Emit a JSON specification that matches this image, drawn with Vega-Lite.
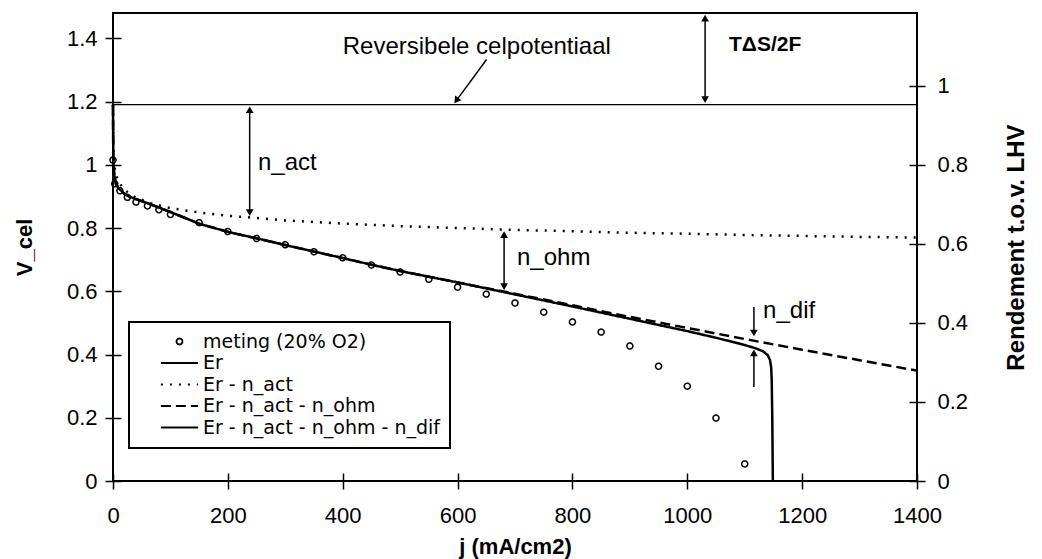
{
  "$schema": "https://vega.github.io/schema/vega-lite/v6.json",
  "width": 804,
  "height": 468,
  "autosize": "none",
  "padding": {"left": 113, "top": 13, "right": 125, "bottom": 78},
  "background": "white",
  "datasets": {
    "curves": [
      {"j": 0, "V": 1.19, "series": "Er"},
      {"j": 1400, "V": 1.19, "series": "Er"},
      {"j": 0, "V": 1.19, "series": "Er - n_act"},
      {"j": 0.5, "V": 1.05, "series": "Er - n_act"},
      {"j": 1, "V": 1.026, "series": "Er - n_act"},
      {"j": 2, "V": 1.0, "series": "Er - n_act"},
      {"j": 5, "V": 0.969, "series": "Er - n_act"},
      {"j": 10, "V": 0.945, "series": "Er - n_act"},
      {"j": 20, "V": 0.92, "series": "Er - n_act"},
      {"j": 40, "V": 0.896, "series": "Er - n_act"},
      {"j": 64, "V": 0.879, "series": "Er - n_act"},
      {"j": 100, "V": 0.863, "series": "Er - n_act"},
      {"j": 150, "V": 0.849, "series": "Er - n_act"},
      {"j": 200, "V": 0.839, "series": "Er - n_act"},
      {"j": 300, "V": 0.824, "series": "Er - n_act"},
      {"j": 400, "V": 0.814, "series": "Er - n_act"},
      {"j": 500, "V": 0.806, "series": "Er - n_act"},
      {"j": 600, "V": 0.8, "series": "Er - n_act"},
      {"j": 700, "V": 0.794, "series": "Er - n_act"},
      {"j": 800, "V": 0.79, "series": "Er - n_act"},
      {"j": 900, "V": 0.785, "series": "Er - n_act"},
      {"j": 1000, "V": 0.782, "series": "Er - n_act"},
      {"j": 1100, "V": 0.778, "series": "Er - n_act"},
      {"j": 1200, "V": 0.775, "series": "Er - n_act"},
      {"j": 1300, "V": 0.772, "series": "Er - n_act"},
      {"j": 1400, "V": 0.77, "series": "Er - n_act"},
      {"j": 0, "V": 1.19, "series": "Er - n_act - n_ohm"},
      {"j": 0.5, "V": 1.03, "series": "Er - n_act - n_ohm"},
      {"j": 1, "V": 1.0, "series": "Er - n_act - n_ohm"},
      {"j": 2, "V": 0.97, "series": "Er - n_act - n_ohm"},
      {"j": 5, "V": 0.94, "series": "Er - n_act - n_ohm"},
      {"j": 10, "V": 0.925, "series": "Er - n_act - n_ohm"},
      {"j": 20, "V": 0.908, "series": "Er - n_act - n_ohm"},
      {"j": 30, "V": 0.898, "series": "Er - n_act - n_ohm"},
      {"j": 64, "V": 0.876, "series": "Er - n_act - n_ohm"},
      {"j": 105, "V": 0.847, "series": "Er - n_act - n_ohm"},
      {"j": 151, "V": 0.813, "series": "Er - n_act - n_ohm"},
      {"j": 204, "V": 0.786, "series": "Er - n_act - n_ohm"},
      {"j": 256, "V": 0.765, "series": "Er - n_act - n_ohm"},
      {"j": 305, "V": 0.744, "series": "Er - n_act - n_ohm"},
      {"j": 352, "V": 0.725, "series": "Er - n_act - n_ohm"},
      {"j": 400, "V": 0.705, "series": "Er - n_act - n_ohm"},
      {"j": 450, "V": 0.684, "series": "Er - n_act - n_ohm"},
      {"j": 500, "V": 0.664, "series": "Er - n_act - n_ohm"},
      {"j": 600, "V": 0.628, "series": "Er - n_act - n_ohm"},
      {"j": 700, "V": 0.592, "series": "Er - n_act - n_ohm"},
      {"j": 800, "V": 0.556, "series": "Er - n_act - n_ohm"},
      {"j": 900, "V": 0.519, "series": "Er - n_act - n_ohm"},
      {"j": 1000, "V": 0.484, "series": "Er - n_act - n_ohm"},
      {"j": 1100, "V": 0.449, "series": "Er - n_act - n_ohm"},
      {"j": 1200, "V": 0.415, "series": "Er - n_act - n_ohm"},
      {"j": 1300, "V": 0.382, "series": "Er - n_act - n_ohm"},
      {"j": 1400, "V": 0.349, "series": "Er - n_act - n_ohm"},
      {"j": 0, "V": 1.19, "series": "Er - n_act - n_ohm - n_dif"},
      {"j": 0.5, "V": 1.03, "series": "Er - n_act - n_ohm - n_dif"},
      {"j": 1, "V": 1.0, "series": "Er - n_act - n_ohm - n_dif"},
      {"j": 2, "V": 0.97, "series": "Er - n_act - n_ohm - n_dif"},
      {"j": 5, "V": 0.94, "series": "Er - n_act - n_ohm - n_dif"},
      {"j": 10, "V": 0.925, "series": "Er - n_act - n_ohm - n_dif"},
      {"j": 20, "V": 0.908, "series": "Er - n_act - n_ohm - n_dif"},
      {"j": 30, "V": 0.898, "series": "Er - n_act - n_ohm - n_dif"},
      {"j": 64, "V": 0.876, "series": "Er - n_act - n_ohm - n_dif"},
      {"j": 105, "V": 0.847, "series": "Er - n_act - n_ohm - n_dif"},
      {"j": 151, "V": 0.813, "series": "Er - n_act - n_ohm - n_dif"},
      {"j": 204, "V": 0.786, "series": "Er - n_act - n_ohm - n_dif"},
      {"j": 256, "V": 0.765, "series": "Er - n_act - n_ohm - n_dif"},
      {"j": 305, "V": 0.744, "series": "Er - n_act - n_ohm - n_dif"},
      {"j": 352, "V": 0.725, "series": "Er - n_act - n_ohm - n_dif"},
      {"j": 400, "V": 0.705, "series": "Er - n_act - n_ohm - n_dif"},
      {"j": 450, "V": 0.684, "series": "Er - n_act - n_ohm - n_dif"},
      {"j": 500, "V": 0.664, "series": "Er - n_act - n_ohm - n_dif"},
      {"j": 600, "V": 0.628, "series": "Er - n_act - n_ohm - n_dif"},
      {"j": 700, "V": 0.59, "series": "Er - n_act - n_ohm - n_dif"},
      {"j": 800, "V": 0.552, "series": "Er - n_act - n_ohm - n_dif"},
      {"j": 900, "V": 0.513, "series": "Er - n_act - n_ohm - n_dif"},
      {"j": 1000, "V": 0.474, "series": "Er - n_act - n_ohm - n_dif"},
      {"j": 1050, "V": 0.453, "series": "Er - n_act - n_ohm - n_dif"},
      {"j": 1100, "V": 0.43, "series": "Er - n_act - n_ohm - n_dif"},
      {"j": 1120, "V": 0.419, "series": "Er - n_act - n_ohm - n_dif"},
      {"j": 1132, "V": 0.41, "series": "Er - n_act - n_ohm - n_dif"},
      {"j": 1140, "V": 0.398, "series": "Er - n_act - n_ohm - n_dif"},
      {"j": 1144, "V": 0.383, "series": "Er - n_act - n_ohm - n_dif"},
      {"j": 1146, "V": 0.36, "series": "Er - n_act - n_ohm - n_dif"},
      {"j": 1147, "V": 0.32, "series": "Er - n_act - n_ohm - n_dif"},
      {"j": 1148, "V": 0.2, "series": "Er - n_act - n_ohm - n_dif"},
      {"j": 1149, "V": 0, "series": "Er - n_act - n_ohm - n_dif"}
    ],
    "meting": [
      {"j": 0, "V": 1.015, "series": "meting (20% O2)"},
      {"j": 3, "V": 0.94, "series": "meting (20% O2)"},
      {"j": 12, "V": 0.918, "series": "meting (20% O2)"},
      {"j": 25, "V": 0.897, "series": "meting (20% O2)"},
      {"j": 40, "V": 0.882, "series": "meting (20% O2)"},
      {"j": 60, "V": 0.87, "series": "meting (20% O2)"},
      {"j": 80, "V": 0.858, "series": "meting (20% O2)"},
      {"j": 100, "V": 0.843, "series": "meting (20% O2)"},
      {"j": 150, "V": 0.817, "series": "meting (20% O2)"},
      {"j": 200, "V": 0.789, "series": "meting (20% O2)"},
      {"j": 250, "V": 0.767, "series": "meting (20% O2)"},
      {"j": 300, "V": 0.747, "series": "meting (20% O2)"},
      {"j": 350, "V": 0.725, "series": "meting (20% O2)"},
      {"j": 400, "V": 0.706, "series": "meting (20% O2)"},
      {"j": 450, "V": 0.683, "series": "meting (20% O2)"},
      {"j": 500, "V": 0.661, "series": "meting (20% O2)"},
      {"j": 550, "V": 0.638, "series": "meting (20% O2)"},
      {"j": 600, "V": 0.613, "series": "meting (20% O2)"},
      {"j": 650, "V": 0.591, "series": "meting (20% O2)"},
      {"j": 700, "V": 0.563, "series": "meting (20% O2)"},
      {"j": 750, "V": 0.534, "series": "meting (20% O2)"},
      {"j": 800, "V": 0.503, "series": "meting (20% O2)"},
      {"j": 850, "V": 0.471, "series": "meting (20% O2)"},
      {"j": 900, "V": 0.427, "series": "meting (20% O2)"},
      {"j": 950, "V": 0.363, "series": "meting (20% O2)"},
      {"j": 1000, "V": 0.3, "series": "meting (20% O2)"},
      {"j": 1050, "V": 0.199, "series": "meting (20% O2)"},
      {"j": 1100, "V": 0.054, "series": "meting (20% O2)"}
    ],
    "shafts": [
      {"j": 1031, "V": 1.464, "j2": 1031, "V2": 1.206},
      {"j": 238, "V": 1.174, "j2": 238, "V2": 0.849},
      {"j": 681, "V": 0.779, "j2": 681, "V2": 0.615},
      {"j": 1116, "V": 0.55, "j2": 1116, "V2": 0.468},
      {"j": 1116, "V": 0.297, "j2": 1116, "V2": 0.405},
      {"j": 650.5, "V": 1.333, "j2": 597.8, "V2": 1.203}
    ],
    "headsUp": [
      {"j": 1031, "V": 1.464},
      {"j": 238, "V": 1.174},
      {"j": 681, "V": 0.779},
      {"j": 1116, "V": 0.405}
    ],
    "headsDown": [
      {"j": 1031, "V": 1.206},
      {"j": 238, "V": 0.849},
      {"j": 681, "V": 0.615},
      {"j": 1116, "V": 0.468}
    ],
    "headsDiag": [
      {"j": 597.8, "V": 1.203}
    ],
    "notes": [
      {"j": 400, "V": 1.372, "text": "Reversibele celpotentiaal"},
      {"j": 252.5, "V": 1.005, "text": "n_act"},
      {"j": 703.5, "V": 0.705, "text": "n_ohm"},
      {"j": 1132, "V": 0.537, "text": "n_dif"}
    ],
    "boldNotes": [
      {"j": 1072.6, "V": 1.378, "text": "TΔS/2F"}
    ],
    "rightAxis": [
      {"e": 0}
    ]
  },
  "config": {
    "font": "Liberation Sans",
    "view": {"stroke": "black", "strokeWidth": 2},
    "axis": {
      "grid": false,
      "domain": false,
      "ticks": true,
      "tickColor": "black",
      "tickWidth": 1.5,
      "tickSize": 16,
      "offset": -8,
      "labelFontSize": 22,
      "labelColor": "black",
      "labelFont": "Liberation Sans",
      "labelFlush": false,
      "labelOverlap": false,
      "titleFontSize": 22,
      "titleFontWeight": "bold",
      "titleColor": "black",
      "titleFont": "Liberation Sans"
    },
    "legend": {
      "orient": "none",
      "legendX": 16,
      "legendY": 309,
      "padding": 10,
      "fillColor": "white",
      "strokeColor": "black",
      "strokeWidth": 2,
      "labelFontSize": 19,
      "labelColor": "black",
      "labelFont": "DejaVu Sans",
      "labelLimit": 500,
      "labelOffset": 14,
      "symbolOffset": 31,
      "symbolSize": 36,
      "symbolStrokeWidth": 1.8,
      "symbolStrokeColor": "black",
      "symbolFillColor": "transparent",
      "rowPadding": 1.5
    }
  },
  "layer": [
    {
      "encoding": {
        "x": {
          "field": "j",
          "type": "quantitative",
          "title": "j (mA/cm2)",
          "scale": {"domain": [0, 1400], "nice": false, "zero": false},
          "axis": {"values": [0, 200, 400, 600, 800, 1000, 1200, 1400], "format": "d", "labelPadding": 16, "titlePadding": 10}
        },
        "y": {
          "field": "V",
          "type": "quantitative",
          "title": "V_cel",
          "scale": {"domain": [0, 1.48], "nice": false, "zero": false},
          "axis": {"values": [0, 0.2, 0.4, 0.6, 0.8, 1, 1.2, 1.4], "format": "~g", "labelPadding": 8, "titlePadding": 30}
        }
      },
      "layer": [
        {
          "data": {"name": "curves"},
          "transform": [{"filter": "datum.series !== 'Er'"}],
          "mark": {"type": "line", "color": "black", "strokeWidth": 2.5},
          "encoding": {
            "strokeDash": {
              "field": "series",
              "type": "nominal",
              "title": null,
              "scale": {
                "domain": ["meting (20% O2)", "Er", "Er - n_act", "Er - n_act - n_ohm", "Er - n_act - n_ohm - n_dif"],
                "range": [[1, 0], [1, 0], [2, 7], [10, 5], [1, 0]]
              }
            }
          }
        },
        {
          "data": {"name": "curves"},
          "transform": [{"filter": "datum.series === 'Er'"}],
          "mark": {"type": "line", "color": "black", "strokeWidth": 1.3},
          "encoding": {
            "strokeDash": {
              "field": "series",
              "type": "nominal",
              "title": null,
              "scale": {
                "domain": ["meting (20% O2)", "Er", "Er - n_act", "Er - n_act - n_ohm", "Er - n_act - n_ohm - n_dif"],
                "range": [[1, 0], [1, 0], [2, 7], [10, 5], [1, 0]]
              }
            }
          }
        },
        {
          "data": {"name": "meting"},
          "mark": {"type": "point", "filled": false, "color": "black", "size": 36, "strokeWidth": 1.5, "opacity": 1},
          "encoding": {
            "shape": {
              "field": "series",
              "type": "nominal",
              "title": null,
              "scale": {
                "domain": ["meting (20% O2)", "Er", "Er - n_act", "Er - n_act - n_ohm", "Er - n_act - n_ohm - n_dif"],
                "range": ["M-1,0A1,1,0,1,0,1,0A1,1,0,1,0,-1,0Z", "M-6.2,0H6.2", "M-6.2,0H6.2", "M-6.2,0H6.2", "M-6.2,0H6.2"]
              }
            },
            "strokeDash": {
              "field": "series",
              "type": "nominal",
              "title": null,
              "scale": {
                "domain": ["meting (20% O2)", "Er", "Er - n_act", "Er - n_act - n_ohm", "Er - n_act - n_ohm - n_dif"],
                "range": [[1, 0], [1, 0], [2, 7], [10, 5], [1, 0]]
              }
            }
          }
        },
        {
          "data": {"name": "shafts"},
          "mark": {"type": "rule", "color": "black", "strokeWidth": 1.5},
          "encoding": {
            "x2": {"field": "j2"},
            "y2": {"field": "V2"}
          }
        },
        {
          "data": {"name": "headsUp"},
          "mark": {"type": "point", "shape": "triangle-up", "filled": true, "color": "black", "size": 60, "opacity": 1},
          "encoding": {}
        },
        {
          "data": {"name": "headsDown"},
          "mark": {"type": "point", "shape": "triangle-down", "filled": true, "color": "black", "size": 60, "opacity": 1},
          "encoding": {}
        },
        {
          "data": {"name": "headsDiag"},
          "mark": {"type": "point", "shape": "triangle-up", "angle": 216, "filled": true, "color": "black", "size": 60, "opacity": 1},
          "encoding": {}
        },
        {
          "data": {"name": "notes"},
          "mark": {"type": "text", "align": "left", "baseline": "middle", "fontSize": 24, "color": "black", "font": "Liberation Sans"},
          "encoding": {"text": {"field": "text"}}
        },
        {
          "data": {"name": "boldNotes"},
          "mark": {"type": "text", "align": "left", "baseline": "middle", "fontSize": 21, "fontWeight": "bold", "color": "black", "font": "Liberation Sans"},
          "encoding": {"text": {"field": "text"}}
        }
      ]
    },
    {
      "data": {"name": "rightAxis"},
      "mark": {"type": "rule", "opacity": 0},
      "encoding": {
        "y": {
          "field": "e",
          "type": "quantitative",
          "title": "Rendement t.o.v. LHV",
          "scale": {"domain": [0, 1.184], "nice": false, "zero": false},
          "axis": {"orient": "right", "values": [0, 0.2, 0.4, 0.6, 0.8, 1], "format": "~g", "labelPadding": 12, "titlePadding": 61, "titleAngle": 270, "titleFontSize": 24}
        }
      }
    }
  ],
  "resolve": {"scale": {"y": "independent"}}
}
